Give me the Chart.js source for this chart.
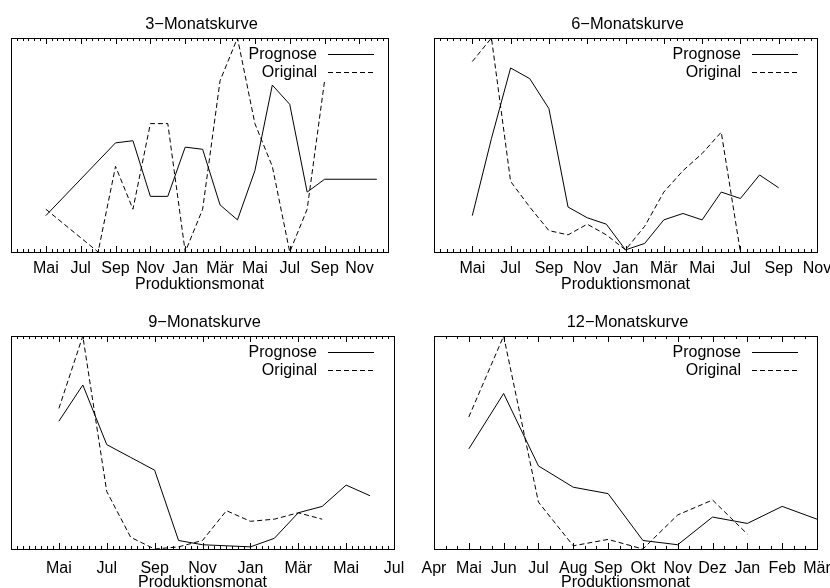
<!DOCTYPE html>
<html>
<head>
<meta charset="utf-8">
<script src="https://cdn.jsdelivr.net/npm/chart.js@4"></script>
<style>
  body { margin: 0; background: #fff; }
  #wrap { position: relative; width: 830px; height: 588px; }
  canvas { position: absolute; }
</style>
</head>
<body>
<div id="wrap">
  <canvas id="c3" width="415" height="294" style="left:0;top:0"></canvas>
  <canvas id="c6" width="415" height="294" style="left:415px;top:0"></canvas>
  <canvas id="c9" width="415" height="294" style="left:0;top:294px"></canvas>
  <canvas id="c12" width="415" height="294" style="left:415px;top:294px"></canvas>
</div>
<script>
// x values are month offsets, 0 = first "Mai"
const seriesNames = ["Prognose", "Original"];

// 3-Monatskurve
const prog3Month = [0, 4, 5, 6, 7, 8, 9, 10, 11, 12, 13, 14, 15, 16, 19];
const prog3Value = [17, 51, 52, 26, 26, 49, 48, 22, 15, 38, 78, 69, 28, 34, 34];
const orig3Month = [0, 3, 4, 5, 6, 7, 8, 9, 10, 11, 12, 13, 14, 15, 16];
const orig3Value = [20, 0, 40, 20, 60, 60, 0, 20, 80, 100, 60, 40, 0, 20, 80];
const ticks3 = ["Mai", "Jul", "Sep", "Nov", "Jan", "Mär", "Mai", "Jul", "Sep", "Nov"];

// 6-Monatskurve
const prog6Month = [0, 1, 2, 3, 4, 5, 6, 7, 8, 9, 10, 11, 12, 13, 14, 15, 16];
const prog6Value = [17, 53, 86, 81, 67, 21, 16, 13, 1, 4, 15, 18, 15, 28, 25, 36, 30];
const orig6Month = [0, 1, 2, 3, 4, 5, 6, 7, 8, 9, 10, 11, 12, 13, 14];
const orig6Value = [89, 100, 33, 21, 10, 8, 13, 8, 1, 12, 28, 38, 46, 56, 0];
const ticks6 = ["Mai", "Jul", "Sep", "Nov", "Jan", "Mär", "Mai", "Jul", "Sep", "Nov"];

// 9-Monatskurve
const prog9Month = [0, 1, 2, 3, 4, 5, 6, 7, 8, 9, 10, 11, 12, 13];
const prog9Value = [60, 77, 49, 43, 37, 4, 2, 1.5, 1, 5, 17, 20, 30, 25];
const orig9Month = [0, 1, 2, 3, 4, 5, 6, 7, 8, 9, 10, 11];
const orig9Value = [66, 100, 27, 5.5, 0, 1, 4, 18, 13, 14, 17, 14];
const ticks9 = ["Mai", "Jul", "Sep", "Nov", "Jan", "Mär", "Mai", "Jul"];

// 12-Monatskurve
const prog12Month = [0, 1, 2, 3, 4, 5, 6, 7, 8, 9, 10];
const prog12Value = [47, 73, 39, 29, 26, 4, 2, 15, 12, 20, 14];
const orig12Month = [0, 1, 2, 3, 4, 5, 6, 7, 8];
const orig12Value = [62, 100, 22, 1.5, 4.5, 0, 16, 23, 7];
const ticks12 = ["Apr", "Mai", "Jun", "Jul", "Aug", "Sep", "Okt", "Nov", "Dez", "Jan", "Feb", "Mär"];

const FONT = '"Liberation Sans", Arial, sans-serif';

function pts(xs, ys) {
  return xs.map((x, i) => ({ x: x, y: ys[i] }));
}

// frame, inward ticks, title and key drawn gnuplot-style
const framePlugin = {
  id: "frame",
  afterDraw(chart, args, o) {
    const { ctx, chartArea: a } = chart;
    const sx = chart.scales.x;
    ctx.save();
    ctx.strokeStyle = "#000";
    ctx.fillStyle = "#000";
    ctx.lineWidth = 1;
    ctx.strokeRect(a.left + 0.5, a.top + 0.5, a.right - a.left, a.bottom - a.top);

    const step = o.majorStep / o.minor;
    const n = Math.floor((sx.max - sx.min) / step + 1e-6);
    ctx.beginPath();
    for (let k = 0; k <= n; k++) {
      const v = sx.min + k * step;
      const rel = (v - o.start) / o.majorStep;
      const len = Math.abs(rel - Math.round(rel)) < 1e-6 ? 6 : 3;
      const px = Math.round(sx.getPixelForValue(v)) + 0.5;
      ctx.moveTo(px, a.bottom);
      ctx.lineTo(px, a.bottom - len);
      ctx.moveTo(px, a.top);
      ctx.lineTo(px, a.top + len);
    }
    ctx.stroke();

    ctx.font = "16.4px " + FONT;
    ctx.textBaseline = "middle";
    ctx.textAlign = "center";
    ctx.fillText(o.title, (a.left + a.right) / 2 + 2, a.top - o.titleOffset);

    ctx.font = "16px " + FONT;
    chart.data.datasets.forEach((ds, i) => {
      const y = Math.round(a.top + o.keyTop + i * 17.5) + 0.5;
      const x1 = o.keyEnd - 46;
      ctx.textAlign = "right";
      ctx.fillText(ds.label, x1 - 11, y);
      ctx.setLineDash(ds.borderDash || []);
      ctx.beginPath();
      ctx.moveTo(x1, y);
      ctx.lineTo(o.keyEnd, y);
      ctx.stroke();
    });
    ctx.restore();
  }
};

function makeChart(id, p) {
  const a = p.area;
  return new Chart(document.getElementById(id), {
    type: "line",
    data: {
      datasets: [
        { label: seriesNames[0], data: pts(p.progX, p.progY), borderColor: "#000", borderWidth: 1, pointRadius: 0, tension: 0, fill: false },
        { label: seriesNames[1], data: pts(p.origX, p.origY), borderColor: "#000", borderWidth: 1, borderDash: [5, 3], pointRadius: 0, tension: 0, fill: false }
      ]
    },
    options: {
      responsive: false,
      animation: false,
      devicePixelRatio: 1,
      layout: { padding: { left: a.left, right: 415 - a.right, top: a.top, bottom: 0 } },
      plugins: {
        legend: { display: false },
        tooltip: { enabled: false },
        frame: {
          title: p.title, start: p.start, majorStep: p.step, minor: p.minor,
          titleOffset: 14, keyTop: 16, keyEnd: p.keyEnd
        }
      },
      scales: {
        x: {
          type: "linear",
          min: p.min,
          max: p.max,
          grid: { display: false, drawTicks: false },
          border: { display: false },
          afterBuildTicks: (s) => {
            s.ticks = p.labels.map((l, i) => ({ value: p.start + i * p.step }));
          },
          afterFit: (s) => {
            s.height = 294 - a.bottom;
            s.paddingLeft = 0;
            s.paddingRight = 0;
          },
          ticks: {
            autoSkip: false,
            maxRotation: 0,
            color: "#000",
            padding: p.tickPad,
            font: { family: FONT, size: 16 },
            callback: (v, i) => p.labels[i]
          },
          title: {
            display: true,
            text: "Produktionsmonat",
            color: "#000",
            font: { family: FONT, size: 16, lineHeight: 1 },
            padding: { top: 0, bottom: p.titlePad }
          }
        },
        y: { display: false, min: 0, max: 100 }
      }
    },
    plugins: [framePlugin]
  });
}

makeChart("c3", {
  title: "3\u2212Monatskurve", progX: prog3Month, progY: prog3Value, origX: orig3Month, origY: orig3Value,
  labels: ticks3, start: 0, step: 2, minor: 6, min: -2, max: 19.64,
  area: { left: 11, right: 388, top: 38, bottom: 252 }, keyEnd: 374, tickPad: 7, titlePad: 1
});
makeChart("c6", {
  title: "6\u2212Monatskurve", progX: prog6Month, progY: prog6Value, origX: orig6Month, origY: orig6Value,
  labels: ticks6, start: 0, step: 2, minor: 6, min: -2, max: 18,
  area: { left: 19, right: 402, top: 38, bottom: 252 }, keyEnd: 383, tickPad: 7, titlePad: 1
});
makeChart("c9", {
  title: "9\u2212Monatskurve", progX: prog9Month, progY: prog9Value, origX: orig9Month, origY: orig9Value,
  labels: ticks9, start: 0, step: 2, minor: 8, min: -2, max: 14,
  area: { left: 11, right: 394, top: 42, bottom: 255 }, keyEnd: 374, tickPad: 10, titlePad: -3
});
makeChart("c12", {
  title: "12\u2212Monatskurve", progX: prog12Month, progY: prog12Value, origX: orig12Month, origY: orig12Value,
  labels: ticks12, start: -1, step: 1, minor: 3, min: -1, max: 10,
  area: { left: 19, right: 402, top: 42, bottom: 255 }, keyEnd: 383, tickPad: 10, titlePad: -3
});
</script>
</body>
</html>
